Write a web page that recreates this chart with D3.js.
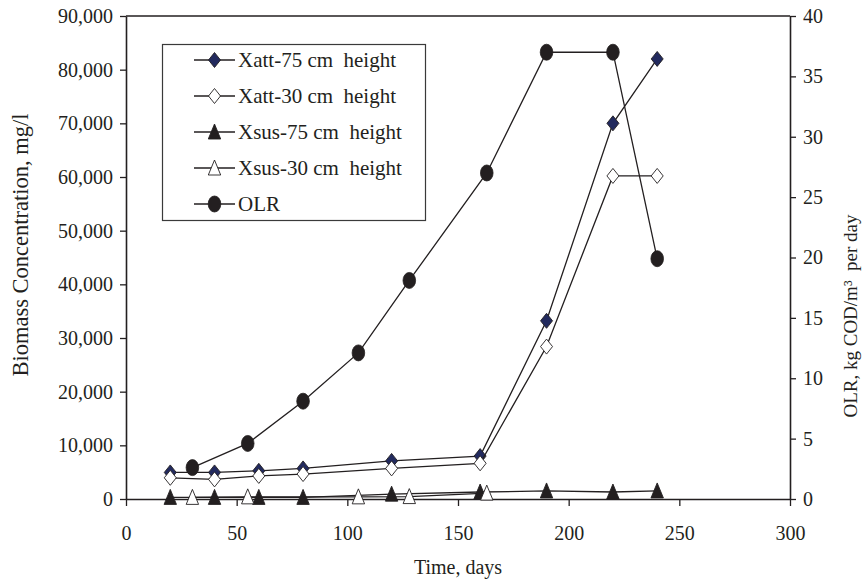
<!DOCTYPE html>
<html>
<head>
<meta charset="utf-8">
<script src="https://cdn.jsdelivr.net/npm/d3@7"></script>
<style>
  body { margin: 0; background: #fff; }
  svg { display: block; font-family: "Liberation Serif", "Times New Roman", serif; }
  text { white-space: pre; fill: #231f20; }
</style>
</head>
<body>
<svg id="chart" width="867" height="582"></svg>
<script>
// values
const attDays = [20, 40, 60, 80, 120, 160, 190, 220, 240];
const xatt75 = [4950, 4950, 5250, 5700, 7100, 8000, 33200, 70000, 82000];
const xatt30 = [3950, 3650, 4300, 4650, 5700, 6650, 28400, 60200, 60200];
const xsus75 = [300, 300, 300, 300, 900, 1300, 1500, 1300, 1500];
const sus30Days = [30, 55, 105, 128, 163];
const xsus30 = [300, 400, 400, 450, 1100];
const olrDays = [30, 55, 80, 105, 128, 163, 190, 220, 240];
const olr = [2.6, 4.6, 8.1, 12.1, 18.1, 27.0, 37.0, 37.0, 19.9];
const seriesNames = ["Xatt-75 cm  height", "Xatt-30 cm  height", "Xsus-75 cm  height", "Xsus-30 cm  height", "OLR"];

const width = 867, height = 582;
const margin = {top: 16, right: 77, bottom: 83, left: 126};
const ink = "#231f20";

const svg = d3.select("#chart");

const x = d3.scaleLinear().domain([0, 300]).range([margin.left, width - margin.right]);
const y = d3.scaleLinear().domain([0, 90000]).range([height - margin.bottom, margin.top]);
const y2 = d3.scaleLinear().domain([0, 40]).range([height - margin.bottom, margin.top]);

// marker shapes (a bit taller than wide, like the original)
const diamond = "M0,-7.5L6,0L0,7.5L-6,0Z";
const triangle = "M0,-8L6.2,7L-6.2,7Z";

const series = [
  {name: seriesNames[0], days: attDays, values: xatt75, scale: y, shape: "diamond", fill: "#222a5e"},
  {name: seriesNames[1], days: attDays, values: xatt30, scale: y, shape: "diamond", fill: "#fff"},
  {name: seriesNames[2], days: attDays, values: xsus75, scale: y, shape: "triangle", fill: ink},
  {name: seriesNames[3], days: sus30Days, values: xsus30, scale: y, shape: "triangle", fill: "#fff"},
  {name: seriesNames[4], days: olrDays, values: olr, scale: y2, shape: "circle", fill: ink}
];

function marker(g, s) {
  if (s.shape === "circle") {
    return g.append("ellipse").attr("rx", 6.3).attr("ry", 8)
      .attr("fill", s.fill).attr("stroke", ink).attr("stroke-width", 0.8);
  }
  return g.append("path").attr("d", s.shape === "diamond" ? diamond : triangle)
    .attr("fill", s.fill).attr("stroke", ink).attr("stroke-width", 0.9);
}

// frame top
svg.append("line")
  .attr("x1", x(0)).attr("x2", x(300))
  .attr("y1", margin.top).attr("y2", margin.top)
  .attr("stroke", ink).attr("stroke-width", 1.5);

function styleAxis(g) {
  g.select(".domain").attr("stroke", ink).attr("stroke-width", 1.6);
  g.selectAll(".tick line").attr("stroke", ink).attr("stroke-width", 1.3);
  g.selectAll(".tick text").attr("font-size", 20).attr("fill", ink)
    .attr("font-family", "Liberation Serif, Times New Roman, serif");
}

svg.append("g")
  .attr("transform", `translate(0,${height - margin.bottom})`)
  .call(d3.axisBottom(x).tickValues(d3.range(0, 301, 50)).tickSize(7).tickPadding(20).tickSizeOuter(0))
  .call(styleAxis);

svg.append("g")
  .attr("transform", `translate(${margin.left},0)`)
  .call(d3.axisLeft(y).tickValues(d3.range(0, 90001, 10000)).tickFormat(d3.format(",")).tickSize(6).tickPadding(7).tickSizeOuter(0))
  .call(styleAxis);

svg.append("g")
  .attr("transform", `translate(${width - margin.right},0)`)
  .call(d3.axisRight(y2).tickValues(d3.range(0, 41, 5)).tickSize(6).tickPadding(7).tickSizeOuter(0))
  .call(styleAxis);

// axis titles
svg.append("text")
  .attr("x", (x(0) + x(300)) / 2).attr("y", 574)
  .attr("text-anchor", "middle").attr("font-size", 20)
  .text("Time, days");

svg.append("text")
  .attr("transform", "translate(28,245) rotate(-90)")
  .attr("text-anchor", "middle").attr("font-size", 22.5)
  .text("Biomass Concentration, mg/l");

svg.append("text")
  .attr("transform", "translate(857,316) rotate(-90)")
  .attr("text-anchor", "middle").attr("font-size", 19)
  .text("OLR, kg COD/m³  per day");

// lines + markers, in Excel's series order
const plot = svg.append("g");
series.forEach(s => {
  const pts = s.days.map((d, i) => [x(d), s.scale(s.values[i])]);
  plot.append("path")
    .attr("d", d3.line()(pts))
    .attr("fill", "none").attr("stroke", ink).attr("stroke-width", 1.3);
  pts.forEach(([px, py]) => {
    marker(plot.append("g").attr("transform", `translate(${px},${py})`), s);
  });
});

// legend
const legend = svg.append("g");
legend.append("rect")
  .attr("x", 162.5).attr("y", 44.5).attr("width", 263).attr("height", 176)
  .attr("fill", "#fff").attr("stroke", "#3a3a3a").attr("stroke-width", 1.2);

series.forEach((s, i) => {
  const ry = 60 + i * 36;
  const row = legend.append("g");
  row.append("line").attr("x1", 194).attr("x2", 235).attr("y1", ry).attr("y2", ry)
    .attr("stroke", ink).attr("stroke-width", 1.3);
  marker(row.append("g").attr("transform", `translate(214.5,${ry})`), s);
  row.append("text").attr("x", 238).attr("y", ry + 7)
    .attr("font-size", 21).text(s.name);
});
</script>
</body>
</html>
